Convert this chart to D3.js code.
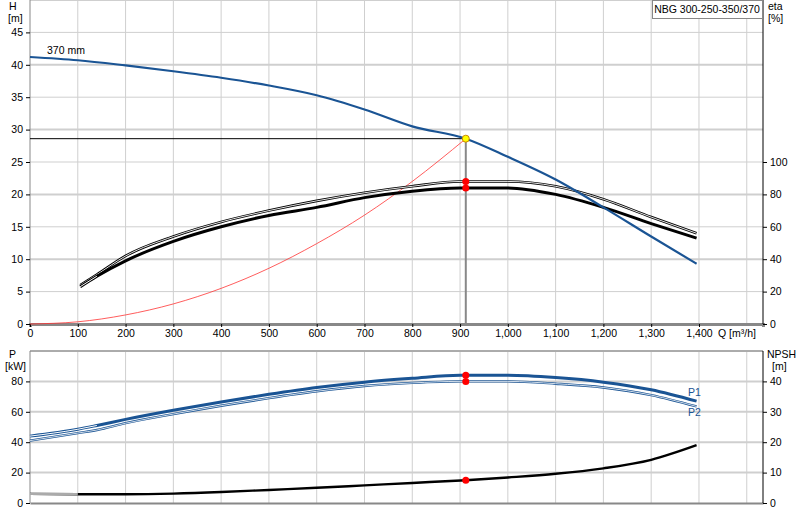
<!DOCTYPE html><html><head><meta charset="utf-8">
<script src="https://cdn.jsdelivr.net/npm/d3@7"></script>
<style>body{margin:0;background:#fff}text{font-family:"Liberation Sans",Arial,sans-serif;font-size:10.5px;fill:#000}</style>
</head><body><svg id="c" width="800" height="520"></svg>
<script>
const hQ=[0,100,200,300,400,500,600,700,800,912,1000,1100,1200,1300,1395];
const hH=[41.2,40.7,39.9,39.0,38.0,36.8,35.3,33.1,30.5,28.6,25.8,22.3,18.0,13.5,9.3];
const etaQ=[105,140,200,300,400,500,600,700,800,900,1000,1100,1200,1300,1395];
const etaUp=[24,30.5,42,54,63,70,76,81,85,88,88,85,77,66,56];
const etaLo=[23,29.5,39,51,60,67,72,78,82,84,84,80,72,62,53];
const sysQ=[0,100,200,300,400,500,600,700,800,912];
const sysH=[0,0.34,1.4,3.1,5.5,8.6,12.4,16.8,22.0,28.6];
const pQ=[0,100,140,200,300,400,500,600,700,800,900,1000,1100,1200,1300,1395];
const p1=[44,48.5,51,55,61,66.5,71.5,76,79.5,82,84,84,82.5,79.5,74.5,67];
const p2=[41,46,48,52.5,58.5,64,69,73.5,77,79,80,80,78.5,76,71,63.5];
const nQ=[0,100,200,300,400,500,600,700,800,912,1000,1100,1200,1300,1395];
const npsh=[3,2.9,2.9,3.1,3.6,4.3,5.0,5.8,6.6,7.5,8.4,9.6,11.4,14.2,19];
const op={q:912,h:28.6,e1:88,e2:84,p1:84,p2:80,n:7.5};
const qTicks=[0,100,200,300,400,500,600,700,800,900,1000,1100,1200,1300,1400];
const hTicks=[0,5,10,15,20,25,30,35,40,45];
const etaTicks=[0,20,40,60,80,100];
const pTicks=[0,20,40,60,80];
const nTicks=[0,10,20,30,40];

const svg=d3.select("#c");
const L=30,R=763;
const x=d3.scaleLinear().domain([0,1534]).range([L,R]);
const yH=d3.scaleLinear().domain([0,50]).range([324,0]);
const yE=d3.scaleLinear().domain([0,200]).range([324,0]);
const yP=d3.scaleLinear().domain([0,100]).range([503,351]);
const yN=d3.scaleLinear().domain([0,50]).range([503,351]);
const grid="#cfcfcf";
function vgrid(y0,y1){for(let q=100;q<=1500;q+=100)svg.append("line").attr("x1",x(q)).attr("x2",x(q)).attr("y1",y0).attr("y2",y1).attr("stroke",grid);}
vgrid(0,324);
hTicks.concat([50]).forEach(h=>{if(h>0)svg.append("line").attr("x1",L).attr("x2",R).attr("y1",yH(h)).attr("y2",yH(h)).attr("stroke",grid).attr("stroke-width",h%10==0?2:1);});
vgrid(351,503);
[20,40,60,80,100].forEach(p=>svg.append("line").attr("x1",L).attr("x2",R).attr("y1",yP(p)).attr("y2",yP(p)).attr("stroke",grid).attr("stroke-width",2));
svg.append("line").attr("x1",L).attr("x2",L).attr("y1",0).attr("y2",324).attr("stroke","#888");
svg.append("line").attr("x1",L).attr("x2",L).attr("y1",351).attr("y2",503).attr("stroke","#888");
svg.append("line").attr("x1",L).attr("x2",R).attr("y1",351).attr("y2",351).attr("stroke","#888");
svg.append("g").attr("transform","translate(0,324)").call(d3.axisBottom(x).tickValues(qTicks).tickSize(3).tickFormat(d3.format(","))).call(g=>g.select(".domain").attr("stroke","#888").attr("stroke-width",3));
svg.append("g").attr("transform",`translate(${L},0)`).call(d3.axisLeft(yH).tickValues(hTicks).tickSize(4)).call(g=>g.select(".domain").remove());
svg.append("g").attr("transform",`translate(${R},0)`).call(d3.axisRight(yE).tickValues(etaTicks).tickSize(4)).call(g=>g.select(".domain").attr("d","M0,0V324"));
svg.append("g").attr("transform","translate(0,503)").call(d3.axisBottom(x).tickValues([]).tickSize(0)).call(g=>g.select(".domain").attr("stroke","#888").attr("stroke-width",2));
svg.append("g").attr("transform",`translate(${L},0)`).call(d3.axisLeft(yP).tickValues(pTicks).tickSize(4)).call(g=>g.select(".domain").remove());
svg.append("g").attr("transform",`translate(${R},0)`).call(d3.axisRight(yN).tickValues(nTicks).tickSize(4)).call(g=>g.select(".domain").attr("d","M0,351V503"));
svg.selectAll(".tick text").style("font-family","Liberation Sans, Arial, sans-serif").style("font-size","10.5px");
const t=(s,X,Y,a,c)=>svg.append("text").attr("x",X).attr("y",Y).attr("text-anchor",a||"start").style("fill",c||"#000").text(s);
t("H",9,10);t("[m]",8,22);t("eta",768,10);t("[%]",768,22);
t("Q [m³/h]",718,337);t("P",9,358);t("[kW]",5,370);t("NPSH",767,358);t("[m]",772,370);
t("370 mm",47,54);
svg.append("rect").attr("x",652.5).attr("y",0.5).attr("width",110).attr("height",18).attr("fill","#fff").attr("stroke","#888");
t("NBG 300-250-350/370",707,13,"middle");
const line=(xs,ys,yS)=>d3.line().curve(d3.curveMonotoneX)(xs.map((q,i)=>[x(q),yS(ys[i])]));
svg.append("line").attr("x1",L).attr("x2",x(op.q)).attr("y1",yH(op.h)).attr("y2",yH(op.h)).attr("stroke","#000");
svg.append("line").attr("x1",x(op.q)).attr("x2",x(op.q)).attr("y1",yH(op.h)).attr("y2",324).attr("stroke","#888").attr("stroke-width",2);
svg.append("path").attr("d",line(sysQ,sysH,yH)).attr("fill","none").attr("stroke","#f33").attr("stroke-width",0.8);
svg.append("path").attr("d",line(etaQ,etaUp,yE)).attr("fill","none").attr("stroke","#000").attr("stroke-width",2.6);
svg.append("path").attr("d",line(etaQ,etaUp,yE)).attr("fill","none").attr("stroke","#fff").attr("stroke-width",0.9);
svg.append("path").attr("d",line(etaQ,etaLo,yE)).attr("fill","none").attr("stroke","#000").attr("stroke-width",3);
svg.append("path").attr("d",line(etaQ.slice(0,2),etaLo.slice(0,2),yE)).attr("fill","none").attr("stroke","#fff").attr("stroke-width",1);
svg.append("path").attr("d",line(hQ,hH,yH)).attr("fill","none").attr("stroke","#1a5494").attr("stroke-width",2.2);
svg.append("path").attr("d",line(pQ,p1,yP)).attr("fill","none").attr("stroke","#1a5494").attr("stroke-width",3);
svg.append("path").attr("d",line(pQ.slice(0,3),p1.slice(0,3),yP)).attr("fill","none").attr("stroke","#fff").attr("stroke-width",1);
svg.append("path").attr("d",line(pQ,p2,yP)).attr("fill","none").attr("stroke","#1a5494").attr("stroke-width",2.4);
svg.append("path").attr("d",line(pQ,p2,yP)).attr("fill","none").attr("stroke","#fff").attr("stroke-width",0.8);
svg.append("path").attr("d",line(nQ,npsh,yN)).attr("fill","none").attr("stroke","#000").attr("stroke-width",2.4);
svg.append("path").attr("d",line(nQ.slice(0,2),npsh.slice(0,2),yN)).attr("fill","none").attr("stroke","#aaa").attr("stroke-width",2.4);
t("P1",688,396,"start","#1a5494");t("P2",688,416,"start","#1a5494");
const dot=(Y,c)=>svg.append("circle").attr("cx",x(op.q)).attr("cy",Y).attr("r",3.5).attr("fill",c).attr("stroke",c=="#ff0"?"#c80":"none");
dot(yE(op.e1),"#f00");dot(yE(op.e2),"#f00");dot(yH(op.h),"#ff0");
dot(yP(op.p1),"#f00");dot(yP(op.p2),"#f00");dot(yN(op.n),"#f00");
</script></body></html>
